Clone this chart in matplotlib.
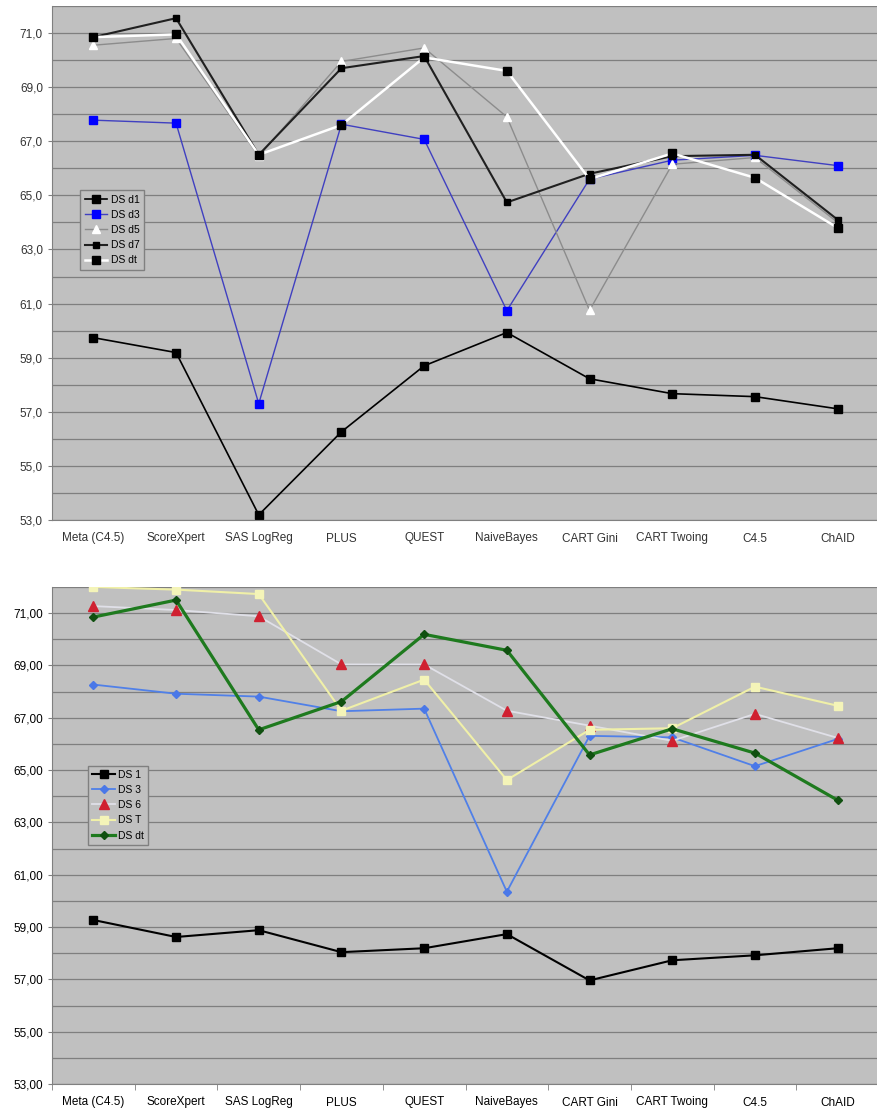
import numpy as np
import matplotlib
matplotlib.use("Agg")
import matplotlib.pyplot as plt
from matplotlib.ticker import FuncFormatter, MultipleLocator

plt.rcParams['font.family'] = ['Liberation Sans', 'DejaVu Sans']

methods = ["Meta (C4.5)", "ScoreXpert", "SAS LogReg", "PLUS", "QUEST",
           "NaiveBayes", "CART Gini", "CART Twoing", "C4.5", "ChAID"]
yticks = [53, 55, 57, 59, 61, 63, 65, 67, 69, 71]

# top chart
top_d1 = [59.74, 59.19, 53.19, 56.26, 58.70, 59.93, 58.22, 57.67, 57.56, 57.11]
top_d3 = [67.78, 67.67, 57.30, 67.63, 67.07, 60.74, 65.60, 66.30, 66.48, 66.10]
top_d5 = [70.55, 70.80, 66.45, 69.95, 70.45, 67.90, 60.75, 66.15, 66.40, 64.00]
top_d7 = [70.85, 71.55, 66.50, 69.70, 70.15, 64.74, 65.80, 66.45, 66.50, 64.10]
top_dt = [70.85, 70.95, 66.50, 67.60, 70.10, 69.60, 65.60, 66.55, 65.65, 63.80]

# bottom chart
bot_1 = [59.27, 58.62, 58.88, 58.04, 58.19, 58.73, 56.96, 57.73, 57.92, 58.19]
bot_3 = [68.27, 67.92, 67.81, 67.25, 67.35, 60.35, 66.31, 66.25, 65.15, 66.19]
bot_6 = [71.27, 71.12, 70.88, 69.04, 69.04, 67.27, 66.70, 66.12, 67.15, 66.23]
bot_T = [72.00, 71.90, 71.73, 67.27, 68.46, 64.62, 66.54, 66.60, 68.19, 67.46]
bot_dt = [70.85, 71.50, 66.54, 67.62, 70.19, 69.58, 65.58, 66.58, 65.65, 63.85]

x = np.arange(len(methods))
W, H = 877, 1111
fig = plt.figure(figsize=(W / 100, H / 100), dpi=100)


def setup(ax, fmt, labcolor, ticks_below):
    ax.set_facecolor('#c0c0c0')
    ax.set_xlim(-0.5, 9.5)
    ax.set_ylim(53, 72)
    ax.set_yticks(yticks)
    ax.yaxis.set_minor_locator(MultipleLocator(1))
    ax.yaxis.set_major_formatter(FuncFormatter(lambda v, p: fmt.format(v).replace('.', ',')))
    ax.grid(True, which='both', axis='y', color='#7f7f7f', lw=0.9)
    ax.set_axisbelow(True)
    ax.set_xticks(x)
    ax.set_xticklabels(methods, fontsize=8.5, color=labcolor)
    ax.tick_params(axis='x', length=0, pad=9)
    ax.tick_params(axis='y', which='major', length=3, labelsize=8.5, labelcolor=labcolor, color='#808080')
    ax.tick_params(axis='y', which='minor', length=0)
    if ticks_below:
        ax.set_xticks(np.arange(-0.5, 10, 1), minor=True)
        ax.tick_params(axis='x', which='minor', length=4, color='#808080')
    for s in ['top', 'right']:
        ax.spines[s].set_visible(False)
    for s in ['left', 'bottom']:
        ax.spines[s].set_color('#808080')


ax1 = fig.add_axes([52 / W, (H - 520) / H, 827 / W, 514 / H])
setup(ax1, '{:.1f}', '#333333', False)
ax1.plot(x, top_d1, color='black', lw=1.2, marker='s', ms=6, mfc='black', mec='black', label='DS d1')
ax1.plot(x, top_d3, color='#4040c0', lw=1.0, marker='s', ms=6, mfc='#0000ff', mec='#0000ff', label='DS d3')
ax1.plot(x, top_d5, color='#8c8c8c', lw=1.0, marker='^', ms=6, mfc='white', mec='white', label='DS d5')
ax1.plot(x, top_d7, color='#202020', lw=1.5, marker='s', ms=4, mfc='black', mec='black', label='DS d7')
ax1.plot(x, top_dt, color='white', lw=1.8, marker='s', ms=6, mfc='black', mec='black', label='DS dt')
ax1.legend(loc='lower left', bbox_to_anchor=(0.028, 0.477), fontsize=7.5, frameon=True,
           facecolor='#c0c0c0', edgecolor='#808080', fancybox=False, framealpha=1,
           handlelength=2.2, borderpad=0.4, labelspacing=0.5, handletextpad=0.3)

ax2 = fig.add_axes([52 / W, (H - 1084) / H, 827 / W, 497 / H])
setup(ax2, '{:.2f}', 'black', True)
ax2.plot(x, bot_1, color='black', lw=1.5, marker='s', ms=6, mfc='black', mec='black', label='DS 1')
ax2.plot(x, bot_3, color='#5080e8', lw=1.3, marker='D', ms=4.5, mfc='#4a78e8', mec='#4a78e8', label='DS 3')
ax2.plot(x, bot_6, color='#e0e0e8', lw=1.3, marker='^', ms=7, mfc='#d02030', mec='#d02030', label='DS 6')
ax2.plot(x, bot_T, color='#f0f0a8', lw=1.5, marker='s', ms=6, mfc='#f4f4b8', mec='#f4f4b8', label='DS T')
ax2.plot(x, bot_dt, color='#1e7a1e', lw=2.3, marker='D', ms=4, mfc='#105010', mec='#105010', label='DS dt')
ax2.legend(loc='lower left', bbox_to_anchor=(0.0375, 0.471), fontsize=7.5, frameon=True,
           facecolor='#c0c0c0', edgecolor='#808080', fancybox=False, framealpha=1,
           handlelength=2.2, borderpad=0.4, labelspacing=0.5, handletextpad=0.3)

fig.savefig('out.png', dpi=100)
